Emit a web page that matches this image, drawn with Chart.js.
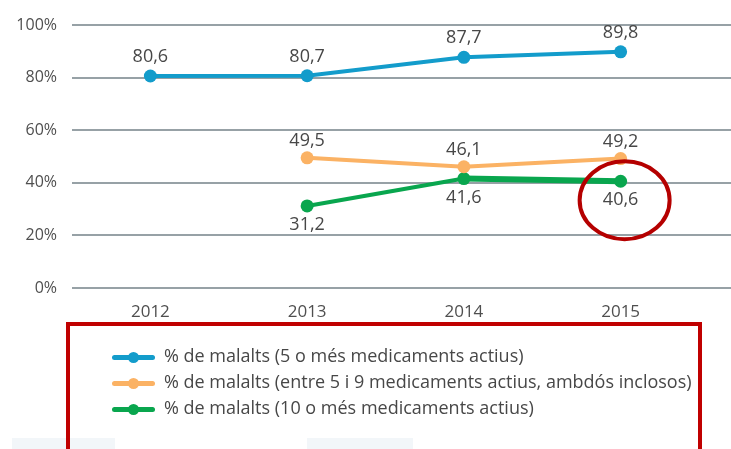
<!DOCTYPE html>
<html>
<head>
<meta charset="utf-8">
<script src="https://cdn.jsdelivr.net/npm/chart.js@4"></script>
<style>
    body { margin: 0; background: #fff; }
    #wrap { position: relative; width: 731px; height: 449px; overflow: hidden; font-family: 'Open Sans', sans-serif; }
    #chart-1 { position: absolute; left: 0; top: 0; }
    .shade { position: absolute; top: 438px; height: 11px; background: #f2f6f9; }
    #legend {
        position: absolute; left: 66px; top: 322px; width: 636px; height: 150px;
        box-sizing: border-box; border: 4px solid #c00000;
        padding: 16px 0 0 42px;
    }
    .item { height: 26px; line-height: 26px; font-size: 18px; color: #474747; white-space: nowrap; }
    .sym { display: inline-block; position: relative; width: 43px; height: 5px; vertical-align: middle; margin-right: 9px; border-radius: 3px; }
    .sym::after { content: ''; position: absolute; left: 16px; top: -3px; width: 11px; height: 11px; border-radius: 50%; background: inherit; }
</style>
</head>
<body>
<div id="wrap">
    <canvas id="chart-1" width="731" height="449"></canvas>
    <div class="shade" style="left:12px;width:103px"></div>
    <div class="shade" style="left:307px;width:106px"></div>
    <div id="legend"></div>
</div>
<script>
const years = ['2012', '2013', '2014', '2015'];
const fivePlus = [80.6, 80.7, 87.7, 89.8];
const fiveToNine = [null, 49.5, 46.1, 49.2];
const tenPlus = [null, 31.2, 41.6, 40.6];
const seriesNames = [
    '% de malalts (5 o més medicaments actius)',
    '% de malalts (entre 5 i 9 medicaments actius, ambdós inclosos)',
    '% de malalts (10 o més medicaments actius)'
];
const seriesColors = ['#139ccb', '#fbb264', '#09a64e'];
const labelOffsets = [-19, -17, 19];

// gridlines run past the plot area to the right edge
const extGrid = {
    id: 'extGrid',
    beforeDatasetsDraw(chart) {
        const { ctx, chartArea, scales: { y } } = chart;
        ctx.save();
        ctx.strokeStyle = '#97a1a6';
        ctx.lineWidth = 2;
        y.ticks.forEach(t => {
            const py = Math.round(y.getPixelForValue(t.value));
            ctx.beginPath();
            ctx.moveTo(chartArea.left, py);
            ctx.lineTo(chart.width, py);
            ctx.stroke();
        });
        ctx.restore();
    }
};

// value labels + red circle on the last green point
const valueLabels = {
    id: 'valueLabels',
    afterDatasetsDraw(chart) {
        const ctx = chart.ctx;
        ctx.save();
        ctx.font = '18px "Open Sans", sans-serif';
        ctx.fillStyle = '#474747';
        ctx.textAlign = 'center';
        ctx.textBaseline = 'middle';
        chart.data.datasets.forEach((ds, i) => {
            chart.getDatasetMeta(i).data.forEach((pt, j) => {
                if (ds.data[j] == null) return;
                ctx.fillText(ds.data[j].toFixed(1).replace('.', ','), pt.x, pt.y + labelOffsets[i]);
            });
        });
        const last = chart.getDatasetMeta(2).data[3];
        ctx.strokeStyle = '#b50000';
        ctx.lineWidth = 4;
        ctx.beginPath();
        ctx.ellipse(last.x + 4, last.y + 19, 45, 39, 0, 0, Math.PI * 2);
        ctx.stroke();
        ctx.restore();
    }
};

const series = [fivePlus, fiveToNine, tenPlus];
const ctx1 = document.getElementById('chart-1');
const chart1 = new Chart(ctx1, {
    type: 'line',
    data: {
        labels: years,
        datasets: series.map((d, i) => ({
            label: seriesNames[i],
            data: d,
            borderColor: seriesColors[i],
            backgroundColor: seriesColors[i],
            borderWidth: 4,
            pointRadius: 6.5,
            pointBorderWidth: 0,
            pointHoverRadius: 6.5,
            tension: 0,
            spanGaps: false,
            segment: i === 2 ? { borderWidth: c => c.p0DataIndex === 2 ? 6 : 4 } : undefined
        }))
    },
    options: {
        responsive: false,
        animation: false,
        layout: { padding: { top: 25, right: 32, bottom: 0, left: 0 } },
        scales: {
            x: {
                offset: true,
                grid: { display: false, drawTicks: false },
                border: { display: false },
                ticks: { padding: 14, color: '#4f4f4f', font: { family: 'Open Sans', size: 17 } },
                afterFit: s => { s.height = 161; }
            },
            y: {
                min: 0,
                max: 100,
                grid: { display: false, drawTicks: false },
                border: { display: false },
                ticks: {
                    stepSize: 20,
                    padding: 15,
                    color: '#4f4f4f',
                    font: { family: 'Open Sans', size: 16 },
                    callback: v => v + '%'
                },
                afterFit: s => { s.width = 72; }
            }
        },
        plugins: {
            legend: { display: false },
            tooltip: { enabled: false }
        }
    },
    plugins: [extGrid, valueLabels]
});

// html legend built from the datasets
const legendBox = document.getElementById('legend');
chart1.data.datasets.forEach(ds => {
    const row = document.createElement('div');
    row.className = 'item';
    row.innerHTML = `<span class="sym" style="background:${ds.borderColor}"></span>${ds.label}`;
    legendBox.appendChild(row);
});
</script>
</body>
</html>
